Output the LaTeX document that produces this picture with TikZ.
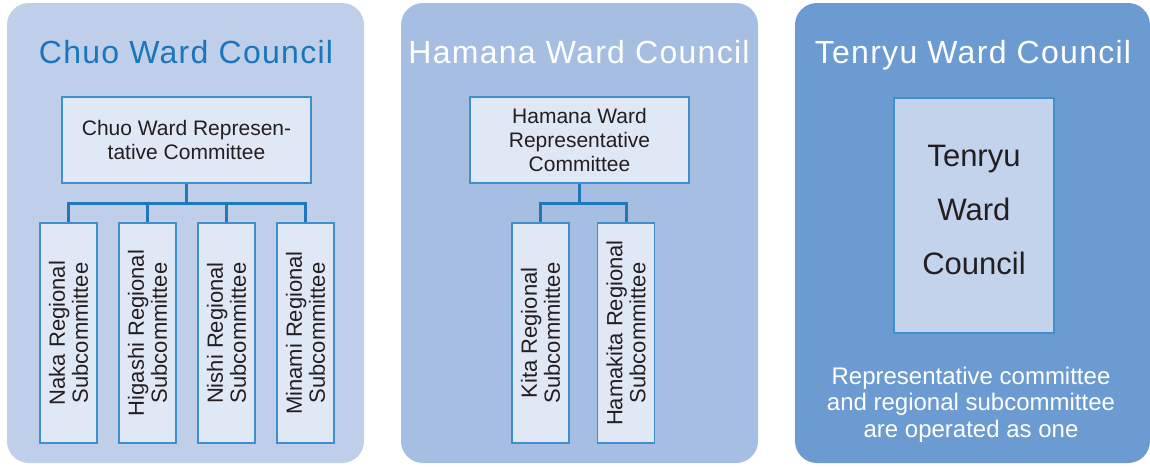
\documentclass[tikz,border=0pt]{standalone}
\usepackage{fontspec}
\setmainfont{Liberation Sans}
\definecolor{paneA}{HTML}{BFCFEA}
\definecolor{paneB}{HTML}{A5BEE2}
\definecolor{paneC}{HTML}{6B9BD1}
\definecolor{boxfill}{HTML}{E1E8F5}
\definecolor{boxline}{HTML}{3F8FCC}
\definecolor{tenfill}{HTML}{C3D3EC}
\definecolor{linkblue}{HTML}{1F78BA}
\definecolor{titleblue}{HTML}{1B75BC}
\definecolor{ink}{HTML}{231F20}
\tikzset{
  pane/.style={rounded corners=22pt},
  wardtitle/.style={anchor=base,font=\fontsize{32}{38}\selectfont\addfontfeature{LetterSpace=4}},
  repbox/.style={draw=boxline,line width=1.3pt,fill=boxfill,text=ink,align=center,
    font=\fontsize{21}{24}\selectfont,inner sep=0pt},
  subbox/.style={repbox,rotate=90,minimum width=220pt,minimum height=57pt,
    font=\fontsize{22}{23}\selectfont},
  link/.style={draw=linkblue,line width=3pt},
}
\begin{document}
\begin{tikzpicture}[x=1pt,y=-1pt]
\pgfmathsetmacro{\sy}{333}
\pgfmathsetmacro{\by}{203}
\useasboundingbox (0,0) rectangle (1150,466);
%
\fill[paneA,pane] (7,3) rectangle (364,463);
\fill[paneB,pane] (401,3) rectangle (758,463);
\fill[paneC,pane] (795,3) rectangle (1150,463);
%
\node[wardtitle,text=titleblue] (chuoT) at (186,63) {Chuo Ward Council};
\node[wardtitle,text=white] (hamaT) at (579,63) {Hamana Ward Council};
\node[wardtitle,text=white] (tenT) at (973,63) {Tenryu Ward Council};
%
\node[repbox,minimum width=249pt,minimum height=86pt] (chuo) at (186.5,140) {Chuo Ward Represen-\\tative Committee};
\node[subbox] (naka) at (68.5,\sy) {Naka Regional\\Subcommittee};
\node[subbox] (higashi) at (147.5,\sy) {Higashi Regional\\Subcommittee};
\node[subbox] (nishi) at (226.5,\sy) {Nishi Regional\\Subcommittee};
\node[subbox] (minami) at (305.5,\sy) {Minami Regional\\Subcommittee};
\coordinate (chuobus) at (186.5,\by);
\draw[link] (chuo.south) -- (chuobus);
\foreach \n in {naka,higashi,nishi,minami}
  \draw[link] (chuobus) -| (\n.east);
%
\node[repbox,minimum width=219pt,minimum height=86pt] (hama) at (579.5,140) {Hamana Ward\\Representative\\Committee};
\node[subbox] (kita) at (540.5,\sy) {Kita Regional\\Subcommittee};
\node[subbox] (hamakita) at (626,\sy) {Hamakita Regional\\Subcommittee};
\coordinate (hamabus) at (579.5,\by);
\draw[link] (hama.south) -- (hamabus);
\foreach \n in {kita,hamakita}
  \draw[link] (hamabus) -| (\n.east);
%
\node[repbox,fill=tenfill,minimum width=160pt,minimum height=235pt,text depth=12pt,
  font=\fontsize{31}{54}\selectfont] (tenryu) at (974,215.5) {Tenryu\\Ward\\Council};
\node[text=white,align=center,font=\fontsize{24}{26.5}\selectfont] (oneop) at (971,404.5)
  {Representative committee\\and regional subcommittee\\are operated as one};
\end{tikzpicture}
\end{document}
